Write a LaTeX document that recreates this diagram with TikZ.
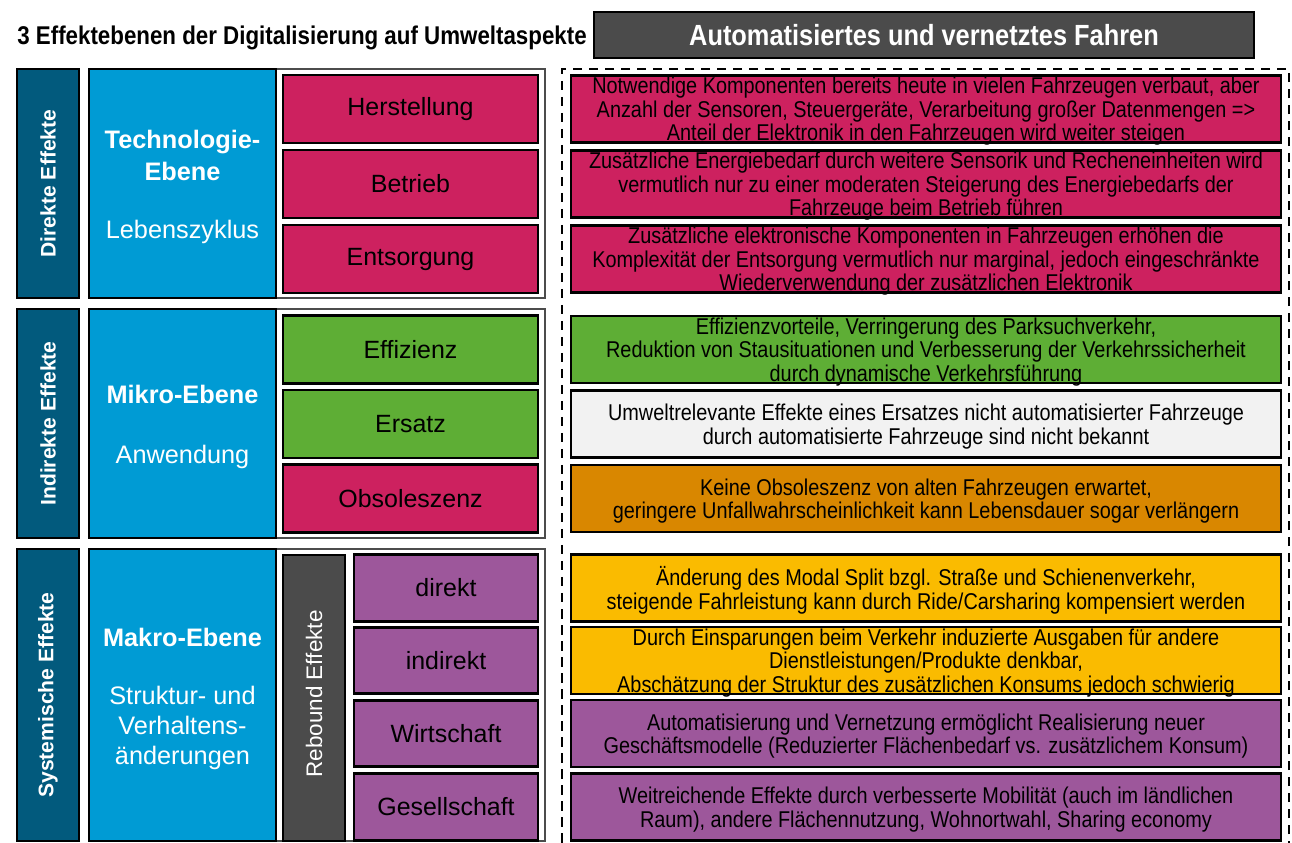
\documentclass[tikz,border=0pt]{standalone}
\usepackage{fontspec}
\setmainfont{Liberation Sans}
\newfontfamily\narrowfont[FakeStretch=0.87]{Liberation Sans}
\usepackage{tikz}
\usetikzlibrary{positioning}

\definecolor{efteal}{RGB}{2,90,125}
\definecolor{efblue}{RGB}{0,155,212}
\definecolor{efmagenta}{RGB}{205,33,95}
\definecolor{efgreen}{RGB}{94,174,53}
\definecolor{efpurple}{RGB}{157,87,155}
\definecolor{eforange}{RGB}{217,135,0}
\definecolor{efyellow}{RGB}{250,187,0}
\definecolor{eflight}{RGB}{242,242,242}
\definecolor{efdark}{RGB}{75,75,75}

\begin{document}
\begin{tikzpicture}[x=0.2mm, y=-0.2mm,
  levelbox/.style={draw=black, line width=1.2pt, fill=efteal, rotate=90, inner sep=0pt,
    minimum height=12.4mm, text=white, font=\bfseries\fontsize{12}{14}\selectfont},
  planebox/.style={draw=black, line width=1.2pt, fill=efblue, inner sep=0pt,
    minimum width=37.4mm},
  groupframe/.style={draw=black!70, line width=0.8pt, fill=white, inner sep=0pt,
    minimum width=53.8mm},
  cell/.style={draw=black, line width=1.5pt, inner sep=0pt, minimum width=51mm,
    minimum height=13.6mm, font=\fontsize{14.2}{16}\selectfont},
  reboundcell/.style={cell, minimum width=36.8mm, minimum height=13.3mm, fill=efpurple},
  effectbox/.style={draw=black, line width=1.5pt, inner sep=0pt, minimum width=142mm,
    minimum height=13.4mm},
  effecttext/.style={align=center, inner sep=0pt, yshift=-0.5mm,
    font=\narrowfont\fontsize{13}{13.4}\selectfont},
  planehead/.style={text=white, align=center, font=\bfseries\fontsize{14.4}{18.2}\selectfont},
  planesub/.style={text=white, align=center, font=\fontsize{14.4}{17.3}\selectfont}
]
\useasboundingbox (0,0) rectangle (1292,842);

% title and header
\node[anchor=west, inner sep=0pt, font=\narrowfont\bfseries\fontsize{14.6}{16}\selectfont]
  (title) at (17,38) {3 Effektebenen der Digitalisierung auf Umweltaspekte};
\node[draw=black, line width=0.8pt, fill=efdark, minimum width=132mm, minimum height=9.2mm,
  text=white, font=\narrowfont\bfseries\fontsize{16.6}{18}\selectfont]
  (head) at (924,35) {Automatisiertes und vernetztes Fahren};

% dashed frame round the right column
\node[draw=black, line width=1.2pt, dash pattern=on 1.9mm off 1.3mm, inner sep=0pt,
  minimum width=145.4mm, minimum height=158mm] (frame) at (925.5,464) {};

% effect levels (rotated)
\node[levelbox, minimum width=45.8mm] (direct) at (48,183.5) {Direkte Effekte};
\node[levelbox, minimum width=45.8mm] (indirect) at (48,423.5) {Indirekte Effekte};
\node[levelbox, minimum width=58.4mm] (system) at (48,695) {Systemische Effekte};

% white frames round the sub levels
\node[groupframe, minimum height=45.8mm] (frame1) at (410.5,183.5) {};
\node[groupframe, minimum height=45.8mm] (frame2) at (410.5,423.5) {};
\node[groupframe, minimum height=58.4mm] (frame3) at (410.5,695) {};

% planes
\node[planebox, minimum height=45.8mm] (tech) at (182.5,183.5) {};
\node[planebox, minimum height=45.8mm] (micro) at (182.5,423.5) {};
\node[planebox, minimum height=58.4mm] (macro) at (182.5,695) {};
\node[planehead] (techhead) at (182.5,155) {Technologie-\\Ebene};
\node[planesub] (techsub) at (182.5,232) {Lebenszyklus};
\node[planehead] (microhead) at (182.5,394) {Mikro-Ebene};
\node[planesub] (microsub) at (182.5,457) {Anwendung};
\node[planehead] (macrohead) at (182.5,637) {Makro-Ebene};
\node[planesub] (macrosub) at (182.5,728) {Struktur- und\\Verhaltens-\\änderungen};

% sub levels
\node[cell, fill=efmagenta] (make) at (410.5,109) {Herstellung};
\node[cell, fill=efmagenta] (use) at (410.5,184) {Betrieb};
\node[cell, fill=efmagenta] (waste) at (410.5,259) {Entsorgung};
\node[cell, fill=efgreen] (effic) at (410.5,349.5) {Effizienz};
\node[cell, fill=efgreen] (subst) at (410.5,424) {Ersatz};
\node[cell, fill=efmagenta] (obsol) at (410.5,498.5) {Obsoleszenz};
\node[draw=black, line width=1.5pt, fill=efdark, rotate=90, inner sep=0pt,
  minimum width=57.2mm, minimum height=12.4mm] (rebound) at (314,698) {};
\node[rotate=90, text=white, font=\fontsize{12.8}{14}\selectfont] (reboundtext) at (314,694) {Rebound Effekte};
\node[reboundcell] (rdirect) at (446,588) {direkt};
\node[reboundcell] (rindirect) at (446,660.5) {indirekt};
\node[reboundcell] (reco) at (446,733.5) {Wirtschaft};
\node[reboundcell] (rsoc) at (446,807) {Gesellschaft};

% effects of automated and connected driving
\node[effectbox, fill=efmagenta] (e1) at (926,109) {};
\node[effecttext] (e1text) at (e1) {Notwendige Komponenten bereits heute in vielen Fahrzeugen verbaut, aber\\Anzahl der Sensoren, Steuergeräte, Verarbeitung großer Datenmengen =>\\Anteil der Elektronik in den Fahrzeugen wird weiter steigen};
\node[effectbox, fill=efmagenta] (e2) at (926,184) {};
\node[effecttext] (e2text) at (e2) {Zusätzliche Energiebedarf durch weitere Sensorik und Recheneinheiten wird\\vermutlich nur zu einer moderaten Steigerung des Energiebedarfs der\\Fahrzeuge beim Betrieb führen};
\node[effectbox, fill=efmagenta] (e3) at (926,259) {};
\node[effecttext] (e3text) at (e3) {Zusätzliche elektronische Komponenten in Fahrzeugen erhöhen die\\Komplexität der Entsorgung vermutlich nur marginal, jedoch eingeschränkte\\Wiederverwendung der zusätzlichen Elektronik};
\node[effectbox, fill=efgreen] (e4) at (926,349.5) {};
\node[effecttext] (e4text) at (e4) {Effizienzvorteile, Verringerung des Parksuchverkehr,\\Reduktion von Stausituationen und Verbesserung der Verkehrssicherheit\\durch dynamische Verkehrsführung};
\node[effectbox, fill=eflight] (e5) at (926,424) {};
\node[effecttext] (e5text) at (e5) {Umweltrelevante Effekte eines Ersatzes nicht automatisierter Fahrzeuge\\durch automatisierte Fahrzeuge sind nicht bekannt};
\node[effectbox, fill=eforange] (e6) at (926,498.5) {};
\node[effecttext] (e6text) at (e6) {Keine Obsoleszenz von alten Fahrzeugen erwartet,\\geringere Unfallwahrscheinlichkeit kann Lebensdauer sogar verlängern};
\node[effectbox, fill=efyellow] (e7) at (926,588) {};
\node[effecttext] (e7text) at (e7) {Änderung des Modal Split bzgl. Straße und Schienenverkehr,\\steigende Fahrleistung kann durch Ride/Carsharing kompensiert werden};
\node[effectbox, fill=efyellow] (e8) at (926,660.5) {};
\node[effecttext] (e8text) at (e8) {Durch Einsparungen beim Verkehr induzierte Ausgaben für andere\\Dienstleistungen/Produkte denkbar,\\Abschätzung der Struktur des zusätzlichen Konsums jedoch schwierig};
\node[effectbox, fill=efpurple] (e9) at (926,733.5) {};
\node[effecttext] (e9text) at (e9) {Automatisierung und Vernetzung ermöglicht Realisierung neuer\\Geschäftsmodelle (Reduzierter Flächenbedarf vs. zusätzlichem Konsum)};
\node[effectbox, fill=efpurple] (e10) at (926,807) {};
\node[effecttext] (e10text) at (e10) {Weitreichende Effekte durch verbesserte Mobilität (auch im ländlichen\\Raum), andere Flächennutzung, Wohnortwahl, Sharing economy};
\end{tikzpicture}
\end{document}
